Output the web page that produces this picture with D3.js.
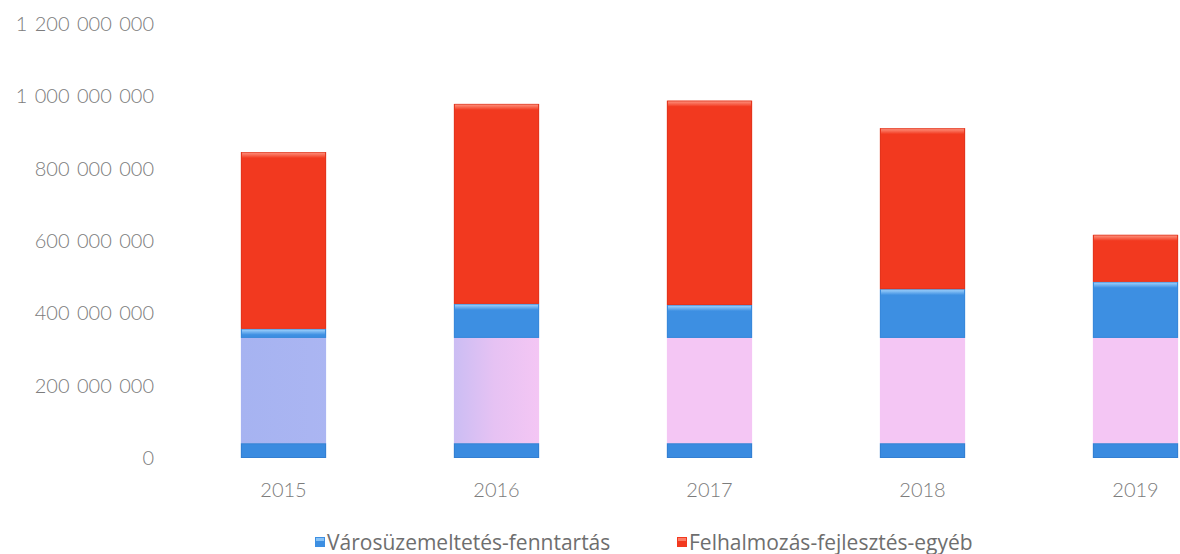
<!DOCTYPE html>
<html>
<head>
<meta charset="utf-8">
<script src="https://cdn.jsdelivr.net/npm/d3@7"></script>
<style>
  html, body { margin: 0; padding: 0; background: #ffffff; }
  svg { display: block; }
  text { font-family: Lato, "Open Sans", sans-serif; }
</style>
</head>
<body>
<svg id="chart" width="1180" height="554"></svg>
<script>
// ---- data ----
const years = ["2015", "2016", "2017", "2018", "2019"];
// Városüzemeltetés-fenntartás, lower part
const varosAlso = [41e6, 41e6, 41e6, 41e6, 41e6];
// Városüzemeltetés-fenntartás, middle (light) part
const varosKozep = [291e6, 291e6, 291e6, 291e6, 291e6];
// Városüzemeltetés-fenntartás, upper part
const varosFelso = [25e6, 94e6, 91e6, 135e6, 155e6];
// Felhalmozás-fejlesztés-egyéb
const felhalmozas = [489e6, 553e6, 565e6, 445e6, 130e6];
const yTicks = [0, 200e6, 400e6, 600e6, 800e6, 1000e6, 1200e6];
const legendLabels = ["Városüzemeltetés-fenntartás", "Felhalmozás-fejlesztés-egyéb"];

// ---- setup ----
const svg = d3.select("#chart");
const y = d3.scaleLinear().domain([0, 1200e6]).range([458, 24]);
const x = d3.scaleBand().domain(years).range([177, 1242]).paddingInner(0.6).paddingOuter(0.3);

const loc = d3.formatLocale({ decimal: ",", thousands: " ", grouping: [3], currency: ["", " Ft"] });
const fmt = loc.format(",d");

// gradients
const defs = svg.append("defs");
const midGrad = defs.append("linearGradient").attr("id", "midGrad")
  .attr("gradientUnits", "userSpaceOnUse")
  .attr("x1", x("2015")).attr("x2", x("2016") + x.bandwidth()).attr("y1", 0).attr("y2", 0);
midGrad.append("stop").attr("offset", "0").attr("stop-color", "#a6b3f1");
midGrad.append("stop").attr("offset", "0.58").attr("stop-color", "#b0b8f3");
midGrad.append("stop").attr("offset", "0.85").attr("stop-color", "#e6c2f3");
midGrad.append("stop").attr("offset", "1").attr("stop-color", "#f4c6f4");

function bevel(id, top, mid) {
  const g = defs.append("linearGradient").attr("id", id).attr("x1", 0).attr("x2", 0).attr("y1", 0).attr("y2", 1);
  g.append("stop").attr("offset", "0").attr("stop-color", top);
  g.append("stop").attr("offset", "1").attr("stop-color", mid);
}
bevel("redTop", "#ff9a86", "#f2391f");
bevel("blueTop", "#a9d8ff", "#3d8fe2");

// ---- stack ----
const keys = ["also", "kozep", "felso", "felh"];
const rows = years.map((yr, i) => ({
  year: yr, also: varosAlso[i], kozep: varosKozep[i], felso: varosFelso[i], felh: felhalmozas[i]
}));
const stacked = d3.stack().keys(keys)(rows);

const fills = { also: "#3a8be0", kozep: "url(#midGrad)", felso: "#3d8fe2", felh: "#f2391f" };
const strokes = { also: "#2f78c8", kozep: "none", felso: "#3583d6", felh: "#d9301a" };
const tops = { also: null, kozep: null, felso: "url(#blueTop)", felh: "url(#redTop)" };

const barG = svg.append("g");
stacked.forEach(layer => {
  const k = layer.key;
  const g = barG.append("g");
  g.selectAll("rect.seg").data(layer).join("rect")
    .attr("class", "seg")
    .attr("x", d => x(d.data.year))
    .attr("width", x.bandwidth())
    .attr("y", d => y(d[1]))
    .attr("height", d => y(d[0]) - y(d[1]))
    .attr("fill", fills[k]);
  if (tops[k]) {
    g.selectAll("rect.top").data(layer).join("rect")
      .attr("class", "top")
      .attr("x", d => x(d.data.year) + 1)
      .attr("width", x.bandwidth() - 2)
      .attr("y", d => y(d[1]))
      .attr("height", d => Math.min(6, y(d[0]) - y(d[1])))
      .attr("fill", tops[k]);
  }
  if (strokes[k] !== "none") {
    g.selectAll("rect.edge").data(layer).join("rect")
      .attr("class", "edge")
      .attr("x", d => x(d.data.year) + 0.5)
      .attr("width", x.bandwidth() - 1)
      .attr("y", d => y(d[1]) + 0.5)
      .attr("height", d => Math.max(0, y(d[0]) - y(d[1]) - 1))
      .attr("fill", "none")
      .attr("stroke", strokes[k])
      .attr("stroke-opacity", 0.6)
      .attr("stroke-width", 1);
  }
});

// ---- axes ----
const yAxis = svg.append("g").attr("transform", "translate(160,0)")
  .call(d3.axisLeft(y).tickValues(yTicks).tickSize(0).tickPadding(6).tickFormat(fmt));
yAxis.select(".domain").remove();
yAxis.selectAll("text").attr("fill", "#7c7c7c").style("font-size", "20px")
  .style("font-family", "Lato, sans-serif").style("font-weight", "300").style("word-spacing", "2px");

const xAxis = svg.append("g").attr("transform", "translate(0,458)")
  .call(d3.axisBottom(x).tickSize(0).tickPadding(25));
xAxis.select(".domain").remove();
xAxis.selectAll("text").attr("fill", "#7c7c7c").style("font-size", "20px")
  .style("font-family", "Lato, sans-serif").style("font-weight", "300");

// ---- legend ----
const legendColors = ["#3d8fe2", "#f2391f"];
const legendX = [315, 677];
const lg = svg.append("g");
legendLabels.forEach((lab, i) => {
  const item = lg.append("g").attr("transform", `translate(${legendX[i]},537)`);
  item.append("rect").attr("width", 10).attr("height", 10).attr("fill", legendColors[i]);
  item.append("rect").attr("x", 1).attr("y", 1).attr("width", 8).attr("height", 3).attr("fill", i === 0 ? "#a9d8ff" : "#ff9a86").attr("opacity", 0.7);
  item.append("text").attr("x", 12).attr("y", 12.5).attr("fill", "#6e6e6e")
    .style("font-family", "'Open Sans', sans-serif")
    .style("font-size", "21px").text(lab);
});
</script>
</body>
</html>
